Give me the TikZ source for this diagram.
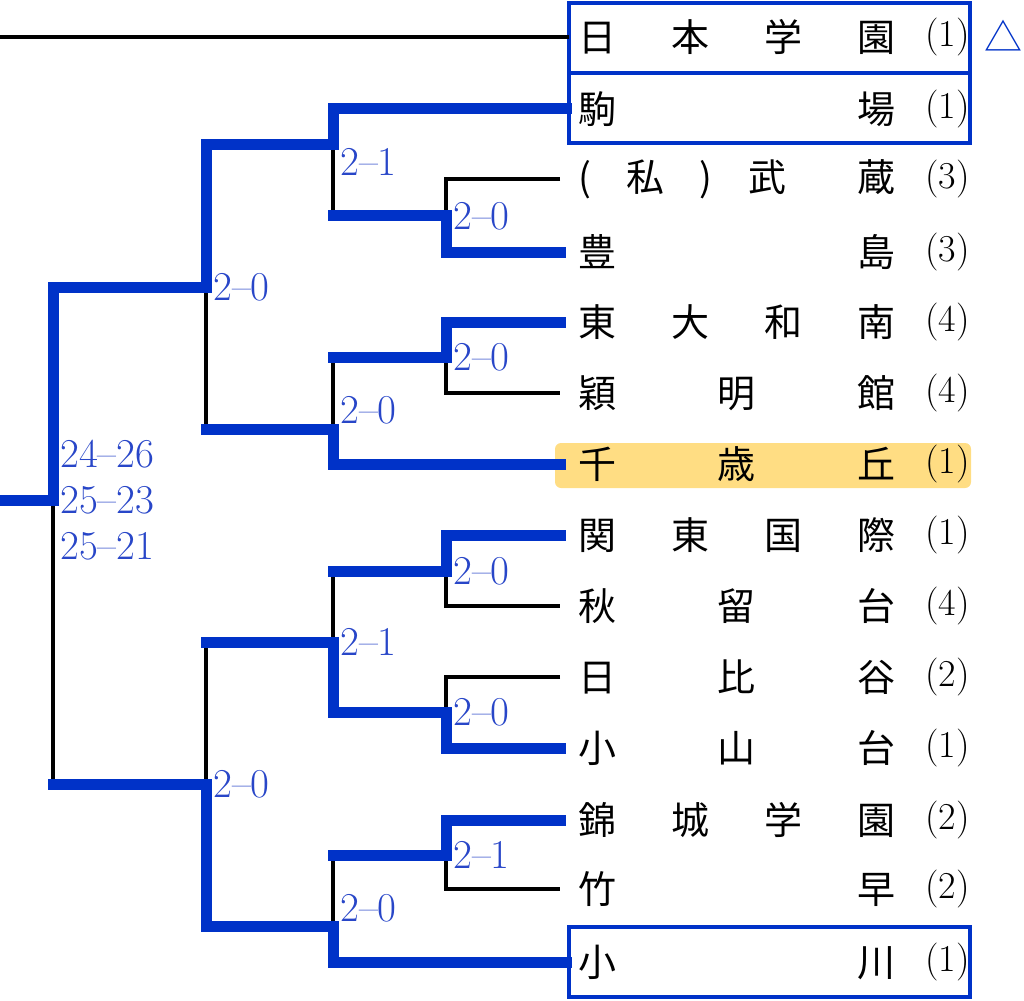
\documentclass[tikz,border=0pt]{standalone}
\usepackage{fontspec}
\newfontfamily\jp{Noto Sans CJK JP}
\definecolor{winblue}{RGB}{0,50,200}
\definecolor{scoreblue}{RGB}{40,70,200}
\definecolor{hilite}{RGB}{255,210,90}
\tikzset{
  win/.style={draw=winblue, line width=11pt, line cap=rect},
  lose/.style={draw=black, line width=3.5pt},
  score/.style={anchor=west, text=scoreblue, inner sep=0pt, font=\fontsize{41}{46}\selectfont},
  team/.style={anchor=west, inner sep=0pt, font=\fontsize{38}{40}\selectfont\jp},
  seed/.style={anchor=east, inner sep=0pt, font=\fontsize{38}{40}\selectfont},
  seedbox/.style={draw=winblue, line width=3.5pt}
}
% team name spread over the name column
\newcommand{\team}[4]{%
  \node[team] (#1) at (578,#2) {\makebox[317pt][s]{#3}};
  \node[seed] (#1s) at (970,#2) {(#4)};
}
\begin{document}
\begin{tikzpicture}[x=1pt,y=-1pt]
\useasboundingbox (0,0) rectangle (1024,1000);
% highlight
\fill[hilite, opacity=0.75, rounded corners=6pt] (555,443) rectangle (971,488);
% teams
\team{t1}{37}{日\hfill 本\hfill 学\hfill 園}{1}
\team{t2}{109}{駒\hfill 場}{1}
\team{t3}{179}{(\hfill 私\hfill )\hfill 武\hfill\hfill 蔵}{3}
\team{t4}{252}{豊\hfill 島}{3}
\team{t5}{322}{東\hfill 大\hfill 和\hfill 南}{4}
\team{t6}{393}{穎\hfill 明\hfill 館}{4}
\team{t7}{464}{千\hfill 歳\hfill 丘}{1}
\team{t8}{535}{関\hfill 東\hfill 国\hfill 際}{1}
\team{t9}{606}{秋\hfill 留\hfill 台}{4}
\team{t10}{677}{日\hfill 比\hfill 谷}{2}
\team{t11}{748}{小\hfill 山\hfill 台}{1}
\team{t12}{820}{錦\hfill 城\hfill 学\hfill 園}{2}
\team{t13}{889}{竹\hfill 早}{2}
\team{t14}{962}{小\hfill 川}{1}
% boxes
\draw[seedbox] (569,3) rectangle (970,73);
\draw[seedbox] (569,73) rectangle (970,143);
\draw[seedbox] (569,927) rectangle (970,997);
\node[text=winblue, inner sep=0pt, font=\fontsize{38}{40}\selectfont\jp] (tri) at (1003,36) {△};
% losing lines
\draw[lose] (0,37) -- (569,37);
\draw[lose] (560,179) -- (446,179) -- (446,216);
\draw[lose] (333,145) -- (333,216);
\draw[lose] (206,287) -- (206,429);
\draw[lose] (446,357) -- (446,393) -- (560,393);
\draw[lose] (333,357) -- (333,429);
\draw[lose] (53,500) -- (53,784);
\draw[lose] (206,642) -- (206,784);
\draw[lose] (333,571) -- (333,642);
\draw[lose] (446,571) -- (446,606) -- (560,606);
\draw[lose] (560,677) -- (446,677) -- (446,712);
\draw[lose] (333,855) -- (333,926);
\draw[lose] (446,855) -- (446,889) -- (560,889);
% winning lines
\draw[win] (566,109) -- (333,109) -- (333,145) -- (206,145) -- (206,287) -- (53,287) -- (53,500) -- (0,500);
\draw[win] (560,252) -- (446,252) -- (446,216) -- (333,216);
\draw[win] (560,322) -- (446,322) -- (446,357) -- (333,357);
\draw[win] (560,464) -- (333,464) -- (333,429) -- (206,429);
\draw[win] (560,535) -- (446,535) -- (446,571) -- (333,571);
\draw[win] (560,748) -- (446,748) -- (446,712) -- (333,712) -- (333,642) -- (206,642);
\draw[win] (560,820) -- (446,820) -- (446,855) -- (333,855);
\draw[win] (566,962) -- (333,962) -- (333,926) -- (206,926) -- (206,784) -- (53,784);
% scores
\node[score] (s1) at (340,162) {2--1};
\node[score] (s2) at (453,216) {2--0};
\node[score] (s3) at (213,287) {2--0};
\node[score] (s4) at (453,357) {2--0};
\node[score] (s5) at (340,410) {2--0};
\node[score] (s6) at (453,571) {2--0};
\node[score] (s7) at (340,642) {2--1};
\node[score] (s8) at (453,712) {2--0};
\node[score] (s9) at (213,784) {2--0};
\node[score] (s10) at (453,855) {2--1};
\node[score] (s11) at (340,908) {2--0};
\node[score, align=left] (fin) at (60,500) {24--26\\25--23\\25--21};
\end{tikzpicture}
\end{document}
